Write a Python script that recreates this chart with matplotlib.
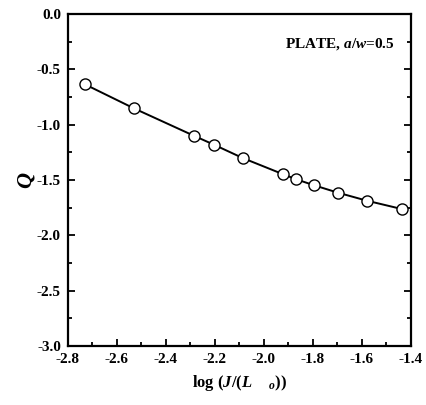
import matplotlib
matplotlib.use("Agg")
import matplotlib.pyplot as plt
from matplotlib.ticker import MultipleLocator

plt.rcParams['font.family'] = 'Liberation Serif'
plt.rcParams['font.weight'] = 'bold'
plt.rcParams['axes.labelweight'] = 'bold'
plt.rcParams['mathtext.fontset'] = 'custom'
plt.rcParams['mathtext.rm'] = 'Liberation Serif:bold'
plt.rcParams['mathtext.it'] = 'Liberation Serif:bold:italic'
plt.rcParams['mathtext.bf'] = 'Liberation Serif:bold'

# data
log_j = [-2.731, -2.531, -2.286, -2.204, -2.087, -1.924, -1.868, -1.795, -1.699, -1.580, -1.438]
q_val = [-0.635, -0.852, -1.100, -1.181, -1.301, -1.446, -1.494, -1.548, -1.614, -1.687, -1.762]

fig = plt.figure(figsize=(4.27, 4.05), dpi=100)
ax = fig.add_axes([0.159, 0.1457, 0.8035, 0.8197])

ax.plot(log_j, q_val, '-', color='black', lw=1.4, marker='o', ms=8,
        mfc='white', mec='black', mew=1.0)

ax.set_xlim(-2.8, -1.4)
ax.set_ylim(-3.0, 0.0)
ax.xaxis.set_major_locator(MultipleLocator(0.2))
ax.xaxis.set_minor_locator(MultipleLocator(0.1))
ax.yaxis.set_major_locator(MultipleLocator(0.5))
ax.yaxis.set_minor_locator(MultipleLocator(0.25))
ax.set_xticklabels(['%.1f' % v for v in ax.get_xticks()])
ax.set_yticklabels(['%.1f' % v for v in ax.get_yticks()])

ax.tick_params(which='both', direction='in', right=True, top=False, width=1.3, labelsize=11, pad=5)
ax.tick_params(which='major', length=5)
ax.tick_params(which='minor', length=3)
for s in ax.spines.values():
    s.set_linewidth(1.6)

ax.set_ylabel(r'$Q$', fontsize=16, labelpad=0)
ax.set_xlabel(r'log ($J$/($L$    $_{o}$))', fontsize=12, fontweight='bold', labelpad=5)

ax.text(0.953, 0.91, r'PLATE, $a/w$=0.5', transform=ax.transAxes, ha='right', va='center',
        fontsize=11, fontweight='bold')

fig.savefig('out.png', dpi=100)
